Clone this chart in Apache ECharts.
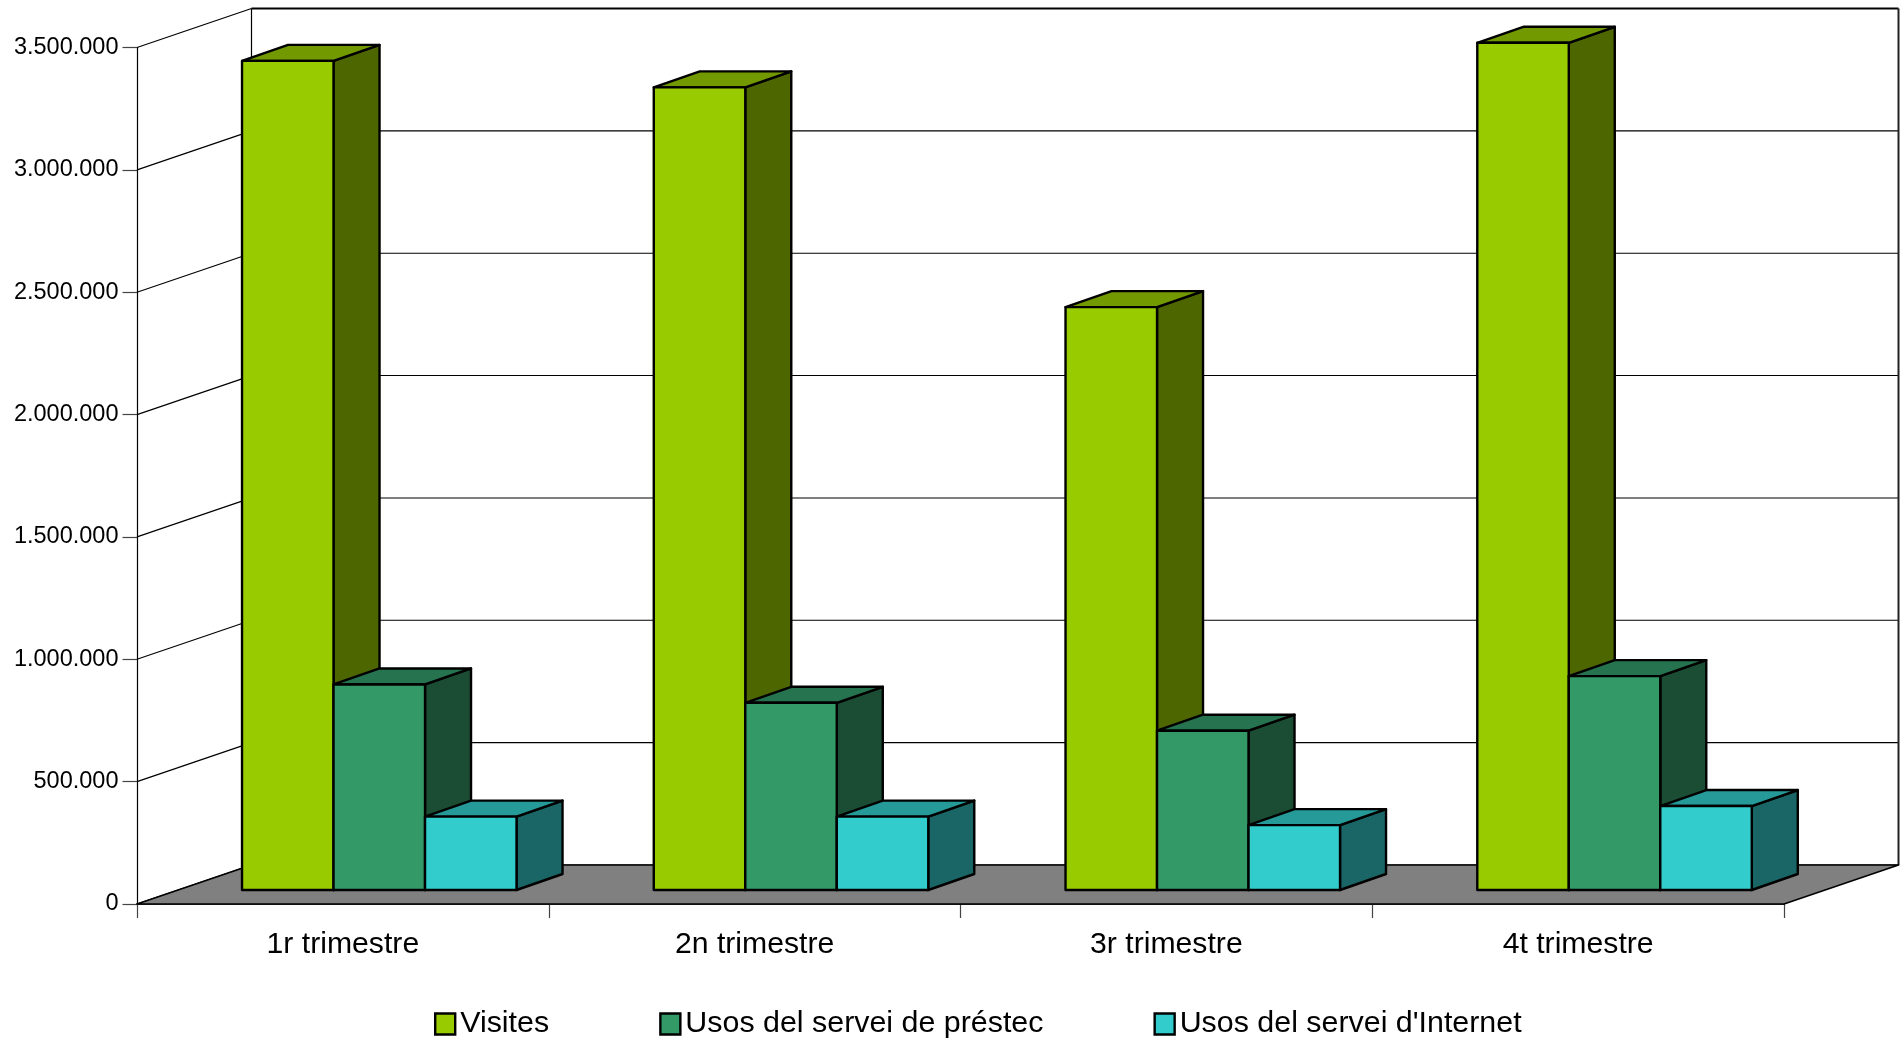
<!DOCTYPE html>
<html>
<head>
<meta charset="utf-8">
<style>html,body{margin:0;padding:0;background:#fff}#c{width:1903px;height:1040px}</style>
<script src="https://cdn.jsdelivr.net/npm/echarts@6/dist/echarts.min.js"></script>
</head>
<body>
<div id="c"></div>
<script>
var categories = ['1r trimestre', '2n trimestre', '3r trimestre', '4t trimestre'];
var visites = [3388000, 3280000, 2382000, 3462000];
var prestec = [840000, 765000, 651000, 874000];
var internet = [300000, 300000, 265000, 343000];
var yTicks = [0, 500000, 1000000, 1500000, 2000000, 2500000, 3000000, 3500000];
var seriesNames = ['Visites', 'Usos del servei de préstec', "Usos del servei d'Internet"];

var WALL_DX = 114.5, WALL_DY = 39;
var BAR_OFF_X = 36.4, BAR_OFF_Y = 14, BAR_DX = 46, BAR_DY = 16;
var FONT = '"Liberation Sans", Arial, sans-serif';
var INK = '#000';

function line(x1, y1, x2, y2, w, color) {
  return { type: 'line', shape: { x1: x1, y1: y1, x2: x2, y2: y2 },
    style: { stroke: color || '#000', lineWidth: w || 1, fill: null } };
}
function poly(points, fill, w) {
  return { type: 'polygon', shape: { points: points },
    style: { fill: fill, stroke: INK, lineWidth: w, lineJoin: 'round' } };
}
function renderWallLine(params, api) {
  var cs = params.coordSys;
  var v = api.value(0);
  var y = api.coord([0, v])[1];
  var l = cs.x, r = cs.x + cs.width;
  var isTop = params.dataIndex === yTicks.length - 1;
  var kids = [
    line(l, y, l + WALL_DX, y - WALL_DY, 1.2, '#000'),
    line(l + WALL_DX, y - WALL_DY, r + WALL_DX, y - WALL_DY, isTop ? 2 : 1.1, '#000')
  ];
  if (isTop) {
    kids.push(line(l + WALL_DX, y - WALL_DY, l + WALL_DX, cs.y + cs.height - WALL_DY, 1.2, '#000'));
    kids.push(line(r + WALL_DX, y - WALL_DY, r + WALL_DX, cs.y + cs.height - WALL_DY, 2, '#222'));
  }
  return { type: 'group', children: kids };
}
function renderFloor(params, api) {
  var cs = params.coordSys;
  var b = cs.y + cs.height, l = cs.x, r = cs.x + cs.width;
  return poly([[l, b], [r, b], [r + WALL_DX, b - WALL_DY], [l + WALL_DX, b - WALL_DY]], '#808080', 1.6);
}
function barRenderer(idx, front, top, side) {
  return function (params, api) {
    var cat = api.value(0), val = api.value(1);
    var c = api.coord([cat, val]), c0 = api.coord([cat, 0]);
    var w = api.size([1, 0])[0] * 2 / 9;
    var x0 = c[0] + (idx - 1.5) * w + BAR_OFF_X, x1 = x0 + w;
    var yt = c[1] - BAR_OFF_Y, yb = c0[1] - BAR_OFF_Y;
    return { type: 'group', children: [
      poly([[x1, yt], [x1 + BAR_DX, yt - BAR_DY], [x1 + BAR_DX, yb - BAR_DY], [x1, yb]], side, 2.4),
      poly([[x0, yt], [x0 + BAR_DX, yt - BAR_DY], [x1 + BAR_DX, yt - BAR_DY], [x1, yt]], top, 2.4),
      poly([[x0, yt], [x1, yt], [x1, yb], [x0, yb]], front, 2.4)
    ] };
  };
}
function pairs(arr) { return arr.map(function (v, i) { return [i, v]; }); }
function barSeries(idx, arr, front, top, side) {
  return { name: seriesNames[idx], type: 'custom', coordinateSystem: 'cartesian2d',
    renderItem: barRenderer(idx, front, top, side), data: pairs(arr),
    encode: { x: 0, y: 1 }, itemStyle: { color: front }, z: 5 + idx, clip: false };
}

var chart = echarts.init(document.getElementById('c'));
chart.setOption({
  animation: false,
  backgroundColor: '#fff',
  grid: { left: 137, right: 119, top: 47.5, height: 856.5, containLabel: false },
  legend: {
    left: 434, top: 1009, padding: 0, itemWidth: 20, itemHeight: 21, itemGap: 110,
    icon: 'rect', selectedMode: false, data: seriesNames,
    itemStyle: { borderColor: '#000', borderWidth: 2.4 },
    textStyle: { fontFamily: FONT, fontSize: 30.4, color: '#000' }
  },
  xAxis: {
    type: 'category', data: categories, boundaryGap: true,
    axisLine: { lineStyle: { color: '#000', width: 1.6 } },
    axisTick: { show: true, length: 14, lineStyle: { color: '#444', width: 1.2 } },
    axisLabel: { fontFamily: FONT, fontSize: 30.2, color: '#000', margin: 26 },
    splitLine: { show: false }
  },
  yAxis: {
    type: 'value', min: 0, max: 3500000, interval: 500000,
    axisLine: { show: true, lineStyle: { color: '#000', width: 1.2 } },
    axisTick: { show: true, length: 14.5, lineStyle: { color: '#444', width: 1.2 } },
    axisLabel: { fontFamily: FONT, fontSize: 23.5, color: '#000', margin: 18.5, padding: [2, 0, 0, 0],
      formatter: function (v) { return String(v).replace(/\B(?=(\d{3})+$)/g, '.'); } },
    splitLine: { show: false }
  },
  series: [
    { type: 'custom', coordinateSystem: 'cartesian2d', renderItem: renderWallLine,
      data: yTicks.map(function (v) { return [v]; }), encode: { y: 0 }, z: 1, silent: true, clip: false },
    { type: 'custom', coordinateSystem: 'cartesian2d', renderItem: renderFloor,
      data: [[0]], encode: { y: 0 }, z: 2, silent: true, clip: false },
    barSeries(0, visites, '#99CC00', '#739900', '#4D6600'),
    barSeries(1, prestec, '#339966', '#267350', '#1A4D33'),
    barSeries(2, internet, '#33CCCC', '#269999', '#1A6666')
  ]
});
</script>
</body>
</html>
